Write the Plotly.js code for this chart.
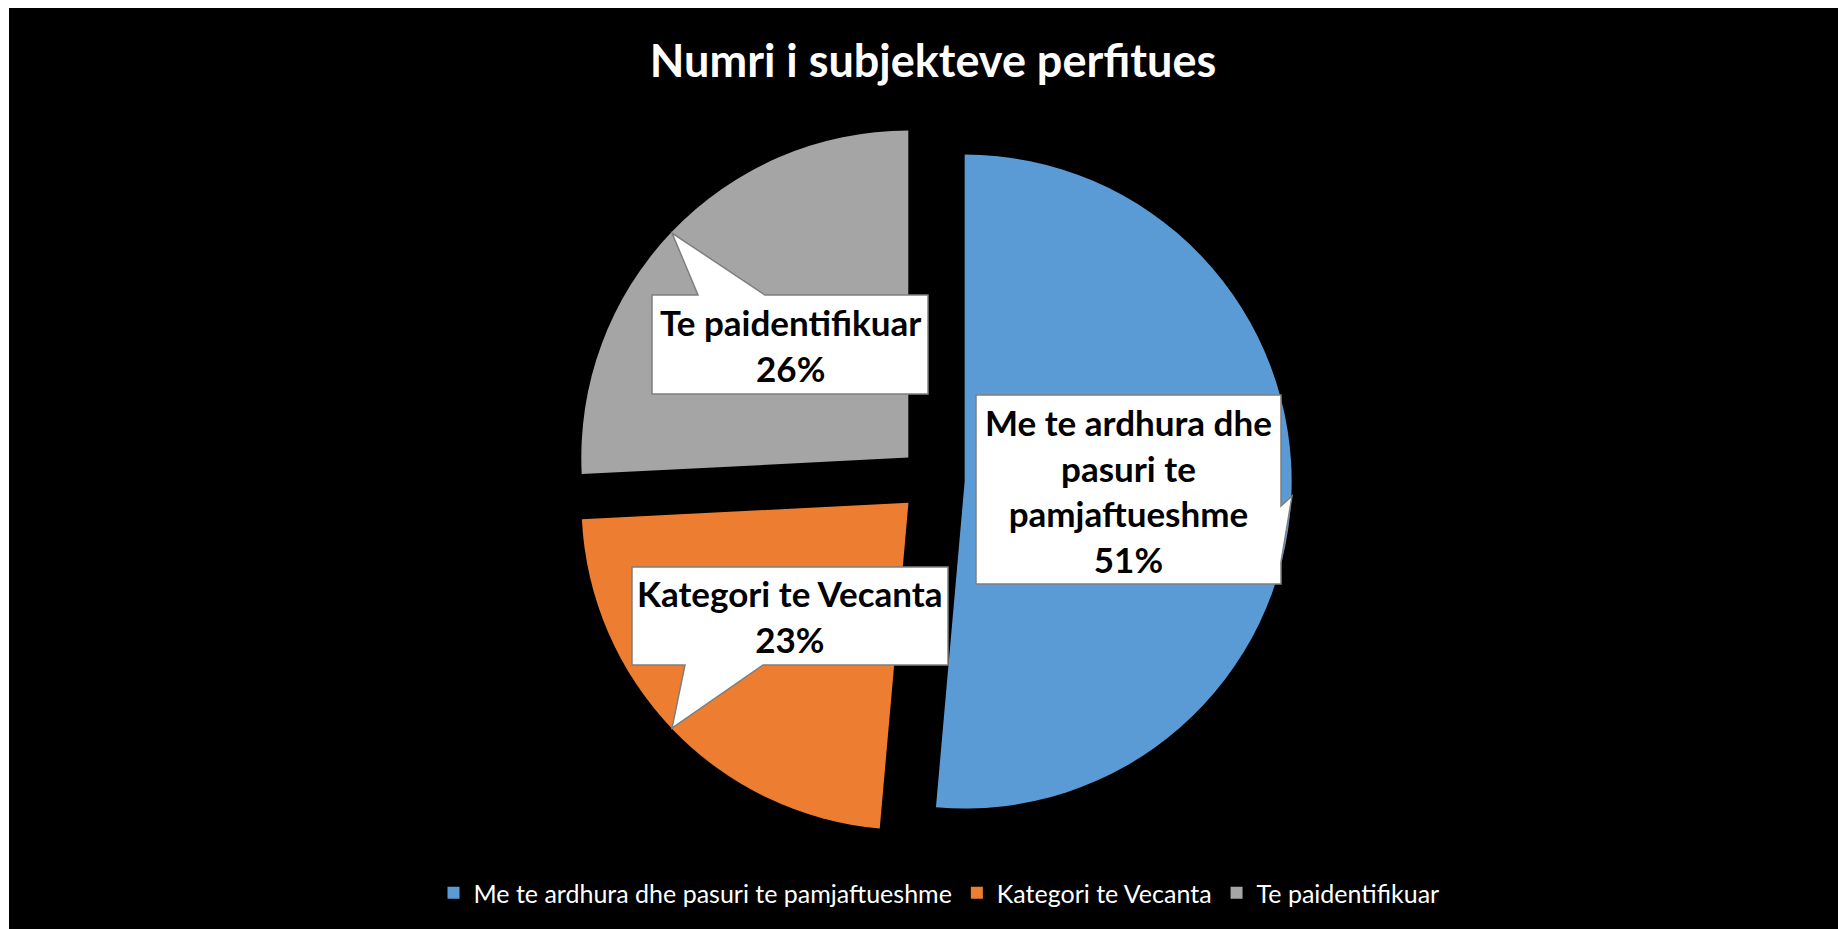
<!DOCTYPE html>
<html>
<head>
<meta charset="utf-8">
<script src="https://cdn.plot.ly/plotly-3.0.1.min.js"></script>
<style>
html,body{margin:0;padding:0;background:#fff;}
#chart{width:1838px;height:929px;}
</style>
</head>
<body>
<div id="chart"></div>
<script>
// ---- data ----
const categories = ["Me te ardhura dhe pasuri te pamjaftueshme", "Kategori te Vecanta", "Te paidentifikuar"];
const shares = [51.4, 22.8, 25.8];
const calloutLabels = ["Me te ardhura dhe<br>pasuri te<br>pamjaftueshme", "Kategori te Vecanta", "Te paidentifikuar"];
const colors = ["#5B9BD5", "#ED7D31", "#A5A5A5"];
const chartTitle = "Numri i subjekteve perfitues";

// ---- layout helpers ----
const W = 1838, H = 929;
function px(x){ return x / W; }
function py(y){ return 1 - y / H; }
function pathOf(pts){
  return pts.map((p, i) => (i ? 'L' : 'M') + px(p[0]).toFixed(5) + ',' + py(p[1]).toFixed(5)).join(' ') + ' Z';
}
const total = shares.reduce((a, b) => a + b, 0);
const pct = shares.map(v => Math.round(v / total * 100) + '%');

// callout boxes (decoration) in pixel space
const callouts = [
  { pts: [[976,395],[1281,395],[1281,506],[1292,496],[1281,562],[1281,584],[976,584]], cx: 1128, cy: 490 },
  { pts: [[632,567],[948,567],[948,665],[763,665],[672,728],[685,665],[632,665]], cx: 790, cy: 616 },
  { pts: [[652,295],[698,295],[672,233],[765,295],[928,295],[928,394],[652,394]], cx: 790, cy: 345 }
];

const shapes = [
  { type: 'rect', xref: 'paper', yref: 'paper', x0: px(9), x1: 1, y0: 0, y1: py(8),
    fillcolor: '#000000', line: { width: 0 }, layer: 'below' }
];
const annotations = [];
callouts.forEach((c, i) => {
  shapes.push({ type: 'path', xref: 'paper', yref: 'paper', path: pathOf(c.pts),
    fillcolor: '#FFFFFF', line: { color: '#7F7F7F', width: 1.5 }, layer: 'above' });
  annotations.push({ xref: 'paper', yref: 'paper', x: px(c.cx), y: py(c.cy),
    xanchor: 'center', yanchor: 'middle', showarrow: false, align: 'center',
    text: calloutLabels[i] + '<br>' + pct[i],
    font: { family: 'Lato, "Open Sans", sans-serif', size: 35, color: '#000000', weight: 'bold' } });
});

const trace = {
  type: 'pie',
  labels: categories,
  values: shares,
  sort: false,
  direction: 'clockwise',
  rotation: 0,
  pull: [0.1, 0.1, 0.1],
  marker: { colors: colors, line: { width: 0 } },
  textinfo: 'none',
  hoverinfo: 'skip',
  domain: { x: [px(932 - 359.7), px(932 + 359.7)], y: [py(840), py(120.3)] }
};

const layout = {
  width: W, height: H,
  margin: { l: 0, r: 0, t: 0, b: 0 },
  paper_bgcolor: '#FFFFFF',
  title: { text: chartTitle, x: px(933), xanchor: 'center', y: py(61), yanchor: 'middle',
    font: { family: 'Lato, "Open Sans", sans-serif', size: 45, color: '#FFFFFF', weight: 'bold' } },
  showlegend: true,
  legend: { orientation: 'h', x: px(939), xanchor: 'center', y: py(893), yanchor: 'middle',
    bgcolor: 'rgba(0,0,0,0)', font: { family: 'Lato, "Open Sans", sans-serif', size: 25, color: '#FFFFFF' } },
  shapes: shapes,
  annotations: annotations
};

Plotly.newPlot('chart', [trace], layout, { displayModeBar: false, staticPlot: true });
</script>
</body>
</html>
